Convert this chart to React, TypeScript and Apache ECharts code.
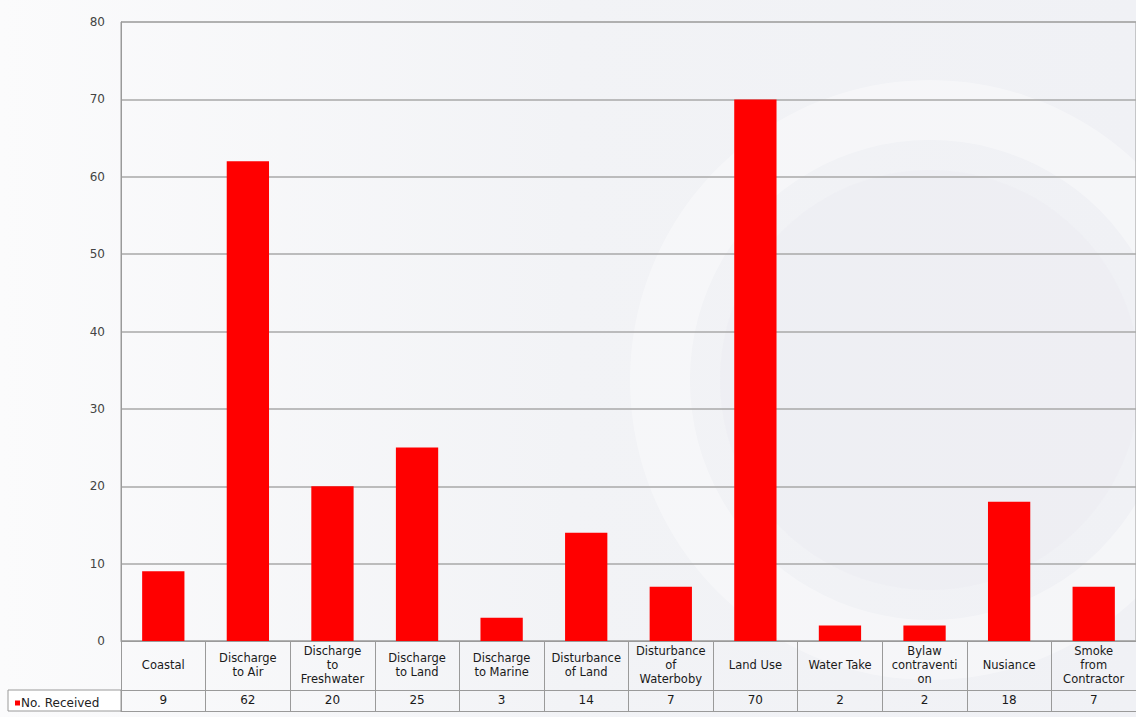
import React, { useEffect, useRef } from "react";
import * as echarts from "echarts";

const categories = [
  "Coastal",
  "Discharge\nto Air",
  "Discharge\nto\nFreshwater",
  "Discharge\nto Land",
  "Discharge\nto Marine",
  "Disturbance\nof Land",
  "Disturbance\nof\nWaterboby",
  "Land Use",
  "Water Take",
  "Bylaw\ncontraventi\non",
  "Nusiance",
  "Smoke\nfrom\nContractor",
];
const received = [9, 62, 20, 25, 3, 14, 7, 70, 2, 2, 18, 7];
const seriesName = "No. Received";
const yTicks = { min: 0, max: 80, interval: 10 };

export default function App() {
  const ref = useRef<HTMLDivElement>(null);
  useEffect(() => {
    if (!ref.current) return;
    const chart = echarts.init(ref.current, undefined, { renderer: "svg" });
    const font = "DejaVu Sans, Liberation Sans, Arial, sans-serif";
    chart.setOption({
      animation: false,
      backgroundColor: {
        type: "linear",
        x: 0, y: 0, x2: 1, y2: 0,
        colorStops: [
          { offset: 0, color: "#fbfbfc" },
          { offset: 0.5, color: "#f2f3f6" },
          { offset: 1, color: "#f0f1f5" },
        ],
      },
      graphic: [
        {
          type: "ring",
          silent: true,
          z: -1,
          shape: { cx: 930, cy: 380, r: 300, r0: 240 },
          style: { fill: "rgba(255,255,255,0.35)" },
        },
        {
          type: "circle",
          silent: true,
          z: -1,
          shape: { cx: 930, cy: 380, r: 210 },
          style: { fill: "rgba(234,236,241,0.45)" },
        },
        {
          type: "rect",
          silent: true,
          shape: { x: 8, y: 690, width: 113, height: 21 },
          style: { fill: "#fff", stroke: "#9a9a9a", lineWidth: 1 },
          z: 0,
        },
      ],
      legend: {
        left: 10,
        top: 692,
        itemWidth: 5,
        itemHeight: 5,
        itemGap: 2,
        icon: "rect",
        textStyle: { fontFamily: font, fontSize: 12, color: "#222", padding: [0, 0, 0, -4] },
        data: [seriesName],
        z: 5,
      },
      grid: { left: 121, top: 22, bottom: 76, right: -7, show: true, backgroundColor: "transparent", borderColor: "#9a9a9a", borderWidth: 1 },
      yAxis: {
        type: "value",
        min: yTicks.min,
        max: yTicks.max,
        interval: yTicks.interval,
        axisLine: { show: true, lineStyle: { color: "#9a9a9a" } },
        axisTick: { show: false },
        axisLabel: { fontFamily: font, fontSize: 12, color: "#444", margin: 16 },
        splitLine: { show: true, lineStyle: { color: "#a8a8a8", width: 1.5 } },
      },
      xAxis: [
        {
          type: "category",
          data: categories,
          position: "bottom",
          axisLine: { show: true, lineStyle: { color: "#9a9a9a" } },
          axisTick: { show: true, length: 70, lineStyle: { color: "#9a9a9a" } },
          axisLabel: {
            interval: 0,
            fontFamily: font,
            fontSize: 11.5,
            lineHeight: 14,
            color: "#1a1a1a",
            margin: 24,
            verticalAlign: "middle",
            align: "center",
          },
          splitLine: { show: false },
        },
        {
          type: "category",
          data: categories,
          position: "bottom",
          offset: 49,
          axisLine: { show: true, lineStyle: { color: "#9a9a9a" } },
          axisTick: { show: false },
          axisLabel: {
            interval: 0,
            fontFamily: font,
            fontSize: 12,
            color: "#1a1a1a",
            margin: 4,
            formatter: (_v: string, i: number) => String(received[i]),
          },
        },
        {
          type: "category",
          data: categories,
          position: "bottom",
          offset: 70,
          axisLine: { show: true, lineStyle: { color: "#9a9a9a" } },
          axisTick: { show: false },
          axisLabel: { show: false },
        },
      ],
      series: [
        {
          name: seriesName,
          type: "bar",
          xAxisIndex: 0,
          data: received,
          barWidth: "50%",
          itemStyle: { color: "#ff0000" },
        },
      ],
    });
    return () => chart.dispose();
  }, []);
  return (
    <div
      ref={ref}
      style={{ position: "fixed", left: 0, top: 0, width: 1136, height: 717 }}
    />
  );
}
